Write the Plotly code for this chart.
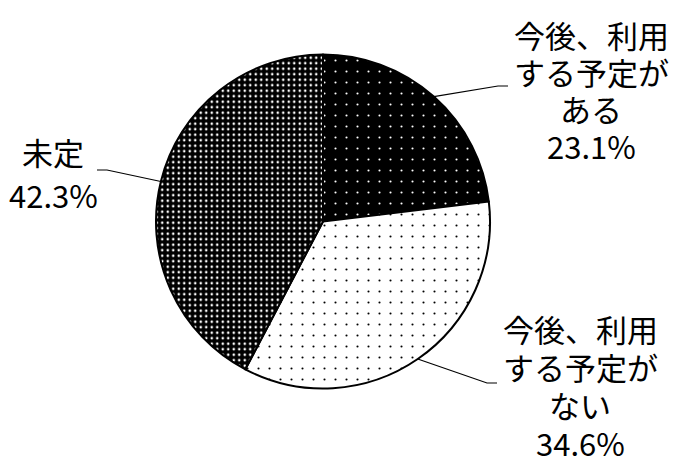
import math
import plotly.graph_objects as go

labels = ['今後、利用<br>する予定が<br>ある', '今後、利用<br>する予定が<br>ない', '未定']
values = [23.1, 34.6, 42.3]

W, H = 674, 456
cx, cy, r = 323, 221.5, 167

# label placement (pixels): text centre x, centre y of the first line, line pitch
label_pos = [(591, 35, 36.7), (580, 328, 38.3), (53, 152, 43)]
elbows = [(498, 86), (487, 383), (107, 170)]
ends = [(508, 86), (497, 383), (97, 170)]

fills = [
    dict(shape='.', bgcolor='black', fgcolor='white', size=11, solidity=0.03),
    dict(shape='.', bgcolor='white', fgcolor='black', size=11, solidity=0.03),
    dict(shape='.', bgcolor='black', fgcolor='white', size=5.5, solidity=0.17),
]


def px(x, y):
    return x / W, 1 - y / H


fig = go.Figure()
fig.add_trace(go.Pie(
    labels=labels, values=values, sort=False, direction='clockwise', rotation=0,
    textinfo='none', hoverinfo='label+percent', showlegend=False,
    marker=dict(colors=['black', 'white', 'black'],
                line=dict(color='black', width=2),
                pattern=dict(shape=[f['shape'] for f in fills],
                             bgcolor=[f['bgcolor'] for f in fills],
                             fgcolor=[f['fgcolor'] for f in fills],
                             size=[f['size'] for f in fills],
                             solidity=[f['solidity'] for f in fills],
                             fillmode='replace')),
    domain=dict(x=[(cx - r) / W, (cx + r) / W], y=[1 - (cy + r) / H, 1 - (cy - r) / H]),
))

total = sum(values)
cum = 0
for i, v in enumerate(values):
    mid = (cum + v / 2) / total * 2 * math.pi
    cum += v
    sx, sy = cx + r * math.sin(mid), cy - r * math.cos(mid)
    pts = [px(sx, sy), px(*elbows[i]), px(*ends[i])]
    path = 'M {} {} L {} {} L {} {}'.format(*[c for p in pts for c in p])
    fig.add_shape(type='path', path=path, xref='paper', yref='paper',
                  line=dict(color='black', width=1.2))
    lx, ly, pitch = label_pos[i]
    lines = labels[i].split('<br>') + [f'{v:.1f}%']
    for j, line in enumerate(lines):
        tx, ty = px(lx, ly + j * pitch)
        fig.add_annotation(x=tx, y=ty, xref='paper', yref='paper', showarrow=False,
                           text=line, xanchor='center', yanchor='middle',
                           font=dict(size=31, color='black'))

fig.update_layout(width=W, height=H, margin=dict(l=0, r=0, t=0, b=0),
                  paper_bgcolor='white', plot_bgcolor='white',
                  font=dict(family='Noto Sans CJK JP, Noto Sans, sans-serif'))
# page body has a default 8px margin, drop it so the figure fills the window
fig.write_html('out.html', config={'displayModeBar': False},
               post_script="document.body.style.margin='0';")
